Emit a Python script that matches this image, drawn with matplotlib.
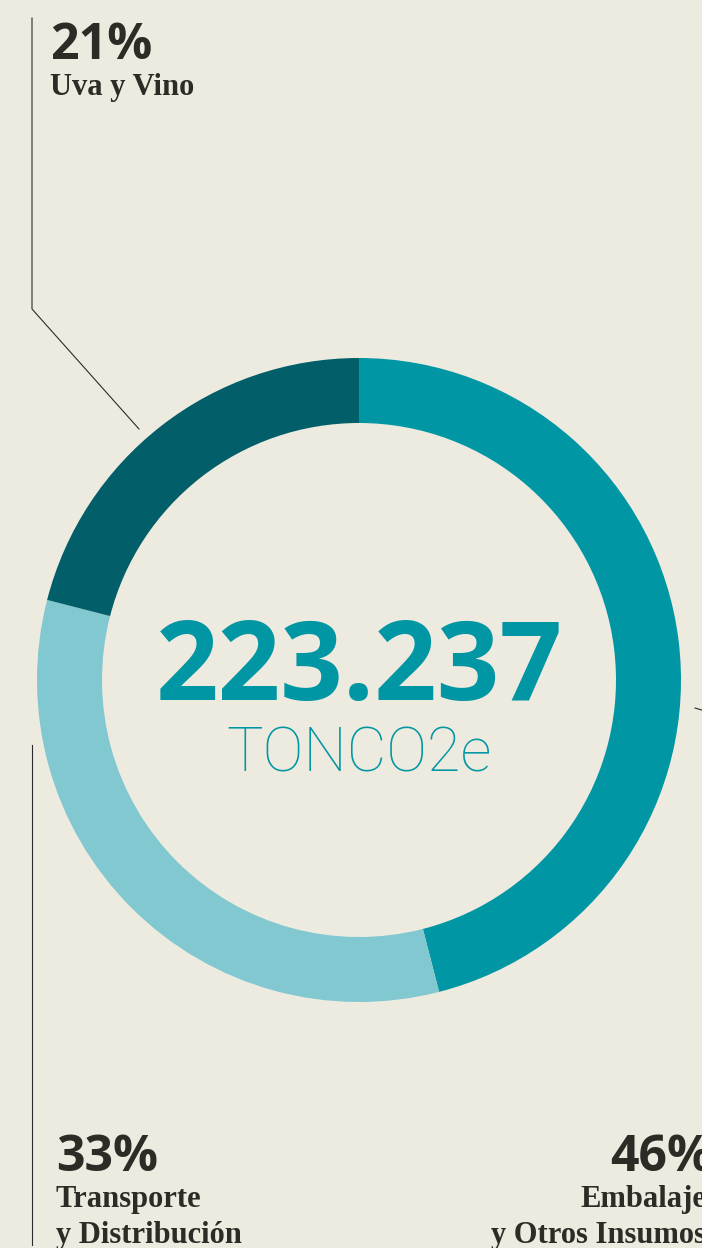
import matplotlib.pyplot as plt

# emisiones por etapa (%)
etapas = [["Embalaje", "y Otros Insumos"], ["Transporte", "y Distribución"], ["Uva y Vino"]]
porcentajes = [46, 33, 21]
colores = ["#0196A3", "#81C8D0", "#025E68"]
total = "223.237"
unidad = "TONCO2e"

fondo = "#EDEBE0"
texto = "#2E2A25"
H = 1248

fig = plt.figure(figsize=(7.02, 12.48), dpi=100)
fig.patch.set_facecolor(fondo)
ax = fig.add_axes([0, 0, 1, 1])
ax.set_facecolor(fondo)

# dona
ax.pie(porcentajes, colors=colores, startangle=90, counterclock=False,
       radius=322, center=(359, H - 680),
       wedgeprops=dict(width=65, linewidth=0))

ax.set_xlim(0, 702)
ax.set_ylim(0, H)
ax.set_aspect("equal")
ax.axis("off")

# texto central
ax.text(359, H - 700, total, ha="center", va="baseline", fontsize=79,
        fontweight="bold", family="Open Sans", color="#0196A3")
ax.text(359, H - 771, unidad, ha="center", va="baseline", fontsize=44,
        fontweight="light", family="Roboto", color="#0196A3")

# lineas guia
lc = "#2B2B2B"
ax.plot([32, 32, 139], [H - 18, H - 309, H - 429], color=lc, lw=0.8)
ax.plot([32, 32], [H - 745, H - 1245], color=lc, lw=0.8)
ax.plot([695, 705], [H - 708, H - 711], color=lc, lw=0.8)

# etiquetas
pct_font = dict(fontweight="bold", family="Open Sans", color=texto, fontsize=36)
lab_font = dict(fontweight="bold", family="Liberation Serif", color=texto, fontsize=22)


def etiqueta(x, y, pct, lineas, ha, dx=0):
    ax.text(x + dx, H - y, f"{pct}%", ha=ha, va="baseline", **pct_font)
    for i, linea in enumerate(lineas):
        ax.text(x, H - (y + 36 + 36 * i), linea, ha=ha, va="baseline", **lab_font)


etiqueta(50, 59, porcentajes[2], etapas[2], "left")
etiqueta(56, 1171, porcentajes[1], etapas[1], "left")
etiqueta(706, 1171, porcentajes[0], etapas[0], "right", dx=6)

fig.savefig("out.png", dpi=100, facecolor=fondo)
